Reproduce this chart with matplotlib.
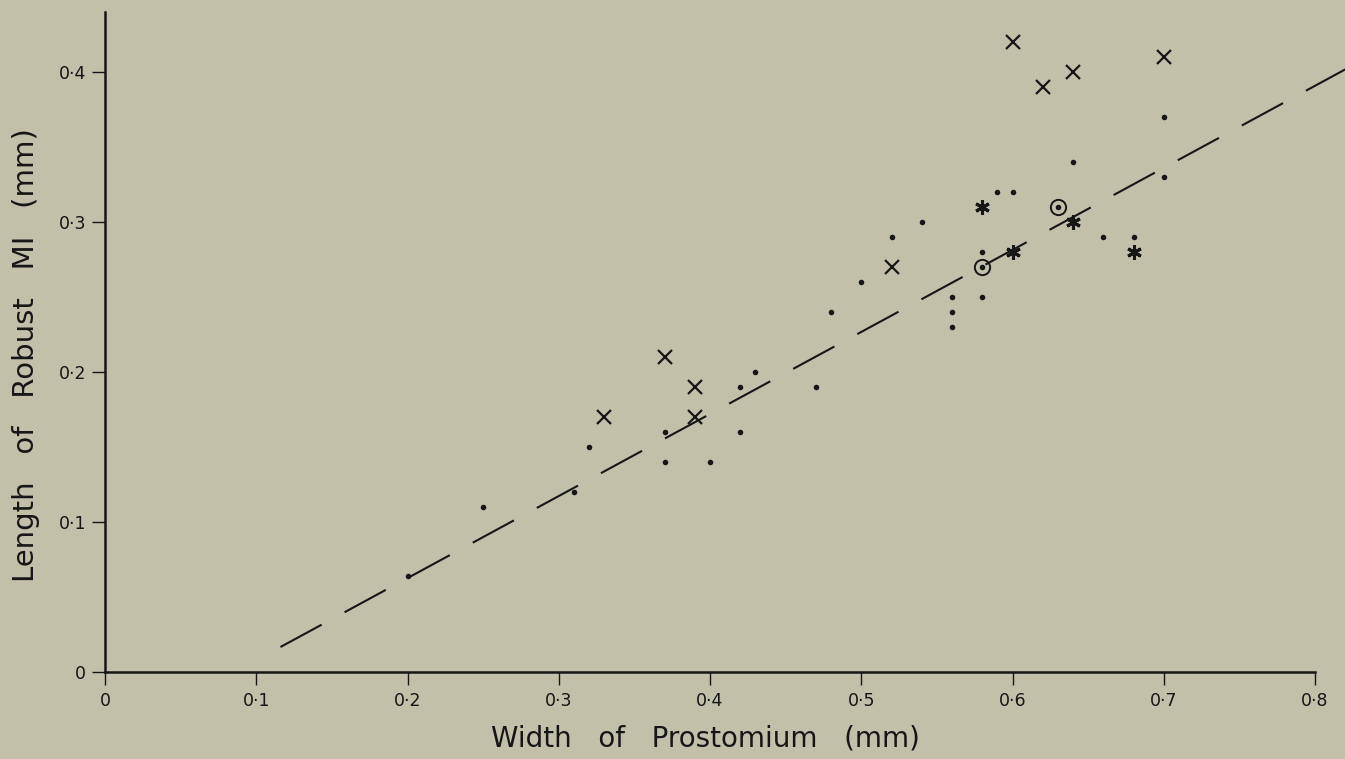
import matplotlib
matplotlib.use("Agg")
import matplotlib.pyplot as plt

# ---- data ----
dot_x = [0.20, 0.25, 0.31, 0.32, 0.37, 0.37, 0.40, 0.42, 0.42, 0.43, 0.47, 0.48, 0.50, 0.52, 0.54,
         0.56, 0.56, 0.56, 0.58, 0.58, 0.59, 0.60, 0.64, 0.66, 0.68, 0.70, 0.70]
dot_y = [0.064, 0.11, 0.12, 0.15, 0.16, 0.14, 0.14, 0.19, 0.16, 0.20, 0.19, 0.24, 0.26, 0.29, 0.30,
         0.25, 0.24, 0.23, 0.25, 0.28, 0.32, 0.32, 0.34, 0.29, 0.29, 0.37, 0.33]
cross_x = [0.33, 0.37, 0.39, 0.39, 0.52, 0.60, 0.62, 0.64, 0.70]
cross_y = [0.17, 0.21, 0.19, 0.17, 0.27, 0.42, 0.39, 0.40, 0.41]
star_x = [0.58, 0.60, 0.64, 0.68]
star_y = [0.31, 0.28, 0.30, 0.28]
circ_x = [0.58, 0.63]
circ_y = [0.27, 0.31]
line_x = [0.116, 0.82]
slope, intercept = 0.547, -0.0468

xticks = [0, 0.1, 0.2, 0.3, 0.4, 0.5, 0.6, 0.7, 0.8]
xtick_labels = ["0", "0·1", "0·2", "0·3", "0·4", "0·5", "0·6", "0·7", "0·8"]
yticks = [0, 0.1, 0.2, 0.3, 0.4]
ytick_labels = ["0", "0·1", "0·2", "0·3", "0·4"]

bg = "#c3c0aa"
ink = "#161616"
plt.rcParams['font.family'] = ['DejaVu Sans']

fig = plt.figure(figsize=(13.45, 7.59), dpi=100, facecolor=bg)
ax = fig.add_axes([105/1345, 1-672/759, 1210/1345, 660/759])
ax.set_facecolor(bg)
ax.set_xlim(0, 0.8)
ax.set_ylim(0, 0.44)

for s in ["top", "right"]:
    ax.spines[s].set_visible(False)
for s in ["left", "bottom"]:
    ax.spines[s].set_linewidth(1.8)
    ax.spines[s].set_color(ink)

ly = [slope * v + intercept for v in line_x]
ax.plot(line_x, ly, color=ink, lw=1.5, dashes=(22.5, 12.5), clip_on=False, zorder=2)

ax.plot(dot_x, dot_y, 'o', ms=4.0, color=ink, mec='none', zorder=3)
ax.plot(cross_x, cross_y, 'x', ms=9.5, mew=1.6, color=ink, zorder=3)
ax.plot(star_x, star_y, marker=(6, 2, 0), ls='none', ms=10.5, mew=2.2, color=ink, zorder=3)
ax.plot(circ_x, circ_y, 'o', ms=11, mfc='none', mec=ink, mew=1.4, zorder=3)
ax.plot(circ_x, circ_y, 'o', ms=4.0, color=ink, mec='none', zorder=3)

ax.set_xticks(xticks)
ax.set_xticklabels(xtick_labels)
ax.set_yticks(yticks)
ax.set_yticklabels(ytick_labels)
ax.tick_params(axis='both', direction='out', length=9.5, width=1.0, color=ink,
               labelsize=12.5, labelcolor=ink)
ax.tick_params(axis='x', pad=5)
ax.tick_params(axis='y', pad=4)

ax.set_xlabel("Width   of   Prostomium   (mm)", fontsize=20, color=ink)
ax.xaxis.set_label_coords(0.496, -0.079)
ax.set_ylabel("Length   of   Robust   MI   (mm)", fontsize=21, color=ink)
ax.yaxis.set_label_coords(-0.054, 0.48)

fig.savefig("out.png", dpi=100, facecolor=bg)
